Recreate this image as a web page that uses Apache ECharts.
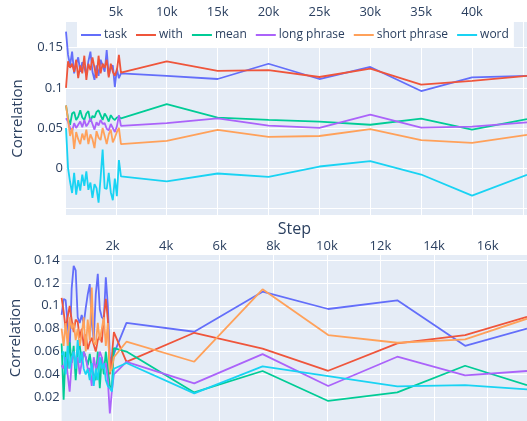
<!DOCTYPE html>
<html><head><meta charset="utf-8">
<script src="https://cdn.jsdelivr.net/npm/echarts@6/dist/echarts.min.js"></script>
<style>html,body{margin:0;padding:0;background:#fff}#c{width:527px;height:421px}</style>
</head><body><div id="c"></div>
<script>
const seriesNames = ['task','with','mean','long phrase','short phrase','word'];
const colors = ['#636efa','#EF553B','#00cc96','#ab63fa','#FFA15A','#19d3f3'];

// top panel
const topSteps = [100,300,500,700,900,1100,1300,1500,1700,1900,2100,2300,2500,2700,2900,3100,3300,3500,3700,3900,4100,4300,4500,4700,4900,5100,5300,5500,10000,15000,20000,25000,30000,35000,40000,45400];
const topTask = [0.170,0.141,0.128,0.145,0.118,0.130,0.138,0.120,0.132,0.125,0.116,0.133,0.145,0.120,0.110,0.128,0.115,0.135,0.128,0.120,0.147,0.115,0.125,0.128,0.101,0.124,0.112, 0.118,0.115,0.111,0.130,0.111,0.126,0.096,0.113,0.115];
const topWith = [0.100,0.133,0.125,0.130,0.120,0.135,0.112,0.128,0.118,0.140,0.110,0.130,0.122,0.138,0.125,0.112,0.140,0.118,0.130,0.125,0.135,0.113,0.130,0.120,0.115,0.122,0.141, 0.119,0.133,0.121,0.122,0.1135,0.124,0.104,0.1086,0.115];
const topMean = [0.078,0.062,0.054,0.068,0.070,0.060,0.064,0.072,0.063,0.060,0.068,0.071,0.058,0.065,0.063,0.070,0.072,0.066,0.060,0.068,0.064,0.058,0.066,0.062,0.060,0.063,0.064, 0.062,0.0796,0.063,0.060,0.058,0.054,0.0617,0.048,0.061];
const topLong = [0.062,0.058,0.050,0.046,0.056,0.050,0.054,0.058,0.051,0.060,0.052,0.056,0.062,0.055,0.048,0.057,0.053,0.060,0.055,0.056,0.049,0.047,0.055,0.050,0.045,0.052,0.066, 0.0526,0.056,0.062,0.053,0.050,0.0667,0.0505,0.0517,0.057];
const topShort = [0.078,0.060,0.040,0.050,0.024,0.045,0.036,0.030,0.043,0.035,0.048,0.030,0.042,0.036,0.025,0.046,0.038,0.035,0.050,0.040,0.030,0.042,0.048,0.032,0.038,0.045,0.050, 0.030,0.034,0.0477,0.039,0.040,0.0485,0.0348,0.0315,0.0414];
const topWord = [0.050,0.000,-0.017,-0.031,-0.006,-0.033,-0.015,-0.028,-0.008,-0.022,-0.004,-0.027,-0.018,-0.037,-0.020,-0.025,-0.043,-0.012,0.023,-0.025,-0.026,-0.006,-0.030,-0.040,-0.013,-0.035,0.010, -0.0104,-0.0166,-0.0067,-0.0108,0.002,0.0087,-0.008,-0.0343,-0.0083];

// bottom panel
const botSteps = [100,175,250,325,400,475,550,625,700,775,850,925,1000,1075,1150,1225,1300,1375,1450,1525,1600,1675,1750,1825,1900,1975,2050,2520,5050,7600,10050,12630,15160,17470];
const botTask = [0.092,0.106,0.105,0.085,0.060,0.115,0.135,0.131,0.090,0.085,0.092,0.084,0.098,0.110,0.119,0.085,0.070,0.110,0.128,0.097,0.090,0.088,0.125,0.100,0.055,0.045,0.058, 0.085,0.0773,0.1123,0.0972,0.1048,0.065,0.080];
const botWith = [0.107,0.095,0.080,0.090,0.100,0.088,0.077,0.088,0.086,0.072,0.080,0.065,0.075,0.062,0.068,0.072,0.066,0.060,0.070,0.074,0.068,0.090,0.106,0.088,0.040,0.055,0.077, 0.051,0.0764,0.0625,0.0432,0.0671,0.0744,0.0904];
const botMean = [0.067,0.018,0.060,0.045,0.068,0.050,0.065,0.035,0.060,0.066,0.050,0.060,0.055,0.048,0.058,0.045,0.040,0.035,0.060,0.028,0.055,0.040,0.060,0.045,0.030,0.028,0.063, 0.060,0.0243,0.043,0.0168,0.0243,0.0476,0.0307];
const botLong = [0.048,0.045,0.055,0.040,0.025,0.050,0.060,0.050,0.055,0.040,0.050,0.060,0.055,0.045,0.045,0.030,0.055,0.045,0.050,0.060,0.055,0.045,0.050,0.035,0.006,0.025,0.040, 0.051,0.0322,0.0578,0.0299,0.0555,0.0392,0.043];
const botShort = [0.080,0.065,0.085,0.065,0.090,0.080,0.085,0.070,0.080,0.065,0.075,0.090,0.060,0.088,0.070,0.116,0.068,0.066,0.085,0.070,0.080,0.090,0.065,0.085,0.042,0.045,0.055, 0.0686,0.0511,0.1144,0.0744,0.0677,0.0707,0.0887];
const botWord = [0.057,0.060,0.040,0.065,0.045,0.055,0.060,0.045,0.070,0.050,0.060,0.045,0.040,0.045,0.035,0.050,0.030,0.045,0.035,0.055,0.045,0.050,0.035,0.030,0.028,0.025,0.045, 0.050,0.0235,0.047,0.0386,0.0296,0.0307,0.0270];

const topXTicks = [5000,10000,15000,20000,25000,30000,35000,40000,45000];
const topXLabels = [5000,10000,15000,20000,25000,30000,35000,40000];
const topYTicks = [-0.05,0,0.05,0.1,0.15];
const topYLabels = [0,0.05,0.1,0.15];
const botXTicks = [2000,4000,6000,8000,10000,12000,14000,16000];
const botYTicks = [0.02,0.04,0.06,0.08,0.1,0.12,0.14];

const FONT = '"Open Sans", verdana, arial, sans-serif';
const TXT = '#2a3f5f';
const kfmt = v => (v/1000) + 'k';
const yfmt = v => String(+(+v).toFixed(2));

const topData = [topTask, topWith, topMean, topLong, topShort, topWord];
const botData = [botTask, botWith, botMean, botLong, botShort, botWord];

const series = [];
topData.forEach((arr, i) => {
  series.push({
    name: seriesNames[i], type: 'line', xAxisIndex: 0, yAxisIndex: 0,
    data: topSteps.map((s, j) => [s, arr[j]]),
    symbol: 'none', lineStyle: {width: 1.8, color: colors[i]}, itemStyle: {color: colors[i]},
    animation: false
  });
});
botData.forEach((arr, i) => {
  series.push({
    name: seriesNames[i], type: 'line', xAxisIndex: 1, yAxisIndex: 1,
    data: botSteps.map((s, j) => [s, arr[j]]),
    symbol: 'none', lineStyle: {width: 1.8, color: colors[i]}, itemStyle: {color: colors[i]},
    animation: false
  });
});

const grid = {color: '#fff', width: 1};
const chart = echarts.init(document.getElementById('c'), null, {renderer: 'canvas'});
chart.setOption({
  animation: false,
  textStyle: {fontFamily: FONT},
  grid: [
    {left: 66, right: 0, top: 22, height: 193, show: true, backgroundColor: '#E5ECF6', borderWidth: 0},
    {left: 60, right: 0, top: 255, height: 166, show: true, backgroundColor: '#E5ECF6', borderWidth: 0}
  ],
  legend: {
    data: seriesNames, left: 77, top: 22, icon: 'rect', itemWidth: 20, itemHeight: 2, itemGap: 9,
    padding: [7, 5, 7, 4], backgroundColor: '#fff',
    textStyle: {fontSize: 12, color: TXT, fontFamily: FONT, padding: [0, 0, 0, -2]}
  },
  xAxis: [
    {gridIndex: 0, type: 'value', position: 'top', min: 100, max: 45400,
     axisLine: {show: false}, axisTick: {show: false, customValues: topXTicks},
     axisLabel: {customValues: topXLabels, formatter: kfmt, color: TXT, fontSize: 13, margin: 3, fontFamily: FONT},
     splitLine: {show: true, lineStyle: grid}},
    {gridIndex: 1, type: 'value', position: 'top', min: 100, max: 17470,
     axisLine: {show: false}, axisTick: {show: false, customValues: botXTicks},
     axisLabel: {customValues: botXTicks, formatter: kfmt, color: TXT, fontSize: 13, margin: 2, fontFamily: FONT},
     splitLine: {show: true, lineStyle: grid},
     name: 'Step', nameLocation: 'middle', nameGap: 18,
     nameTextStyle: {fontSize: 16, color: TXT, fontFamily: FONT}}
  ],
  yAxis: [
    {gridIndex: 0, type: 'value', min: -0.0584, max: 0.182,
     axisLine: {show: false}, axisTick: {show: false, customValues: topYTicks},
     axisLabel: {customValues: topYLabels, formatter: yfmt, color: TXT, fontSize: 13, margin: 3, fontFamily: FONT},
     splitLine: {show: true, lineStyle: grid},
     name: 'Correlation', nameLocation: 'middle', nameGap: 41, nameRotate: 90,
     nameTextStyle: {fontSize: 15, color: TXT, fontFamily: FONT}},
    {gridIndex: 1, type: 'value', min: -0.0007, max: 0.1444,
     axisLine: {show: false}, axisTick: {show: false, customValues: botYTicks},
     axisLabel: {customValues: botYTicks, formatter: yfmt, color: TXT, fontSize: 13, margin: 2, fontFamily: FONT},
     splitLine: {show: true, lineStyle: grid},
     name: 'Correlation', nameLocation: 'middle', nameGap: 33, nameRotate: 90,
     nameTextStyle: {fontSize: 15, color: TXT, fontFamily: FONT}}
  ],
  series: series
});
</script></body></html>
